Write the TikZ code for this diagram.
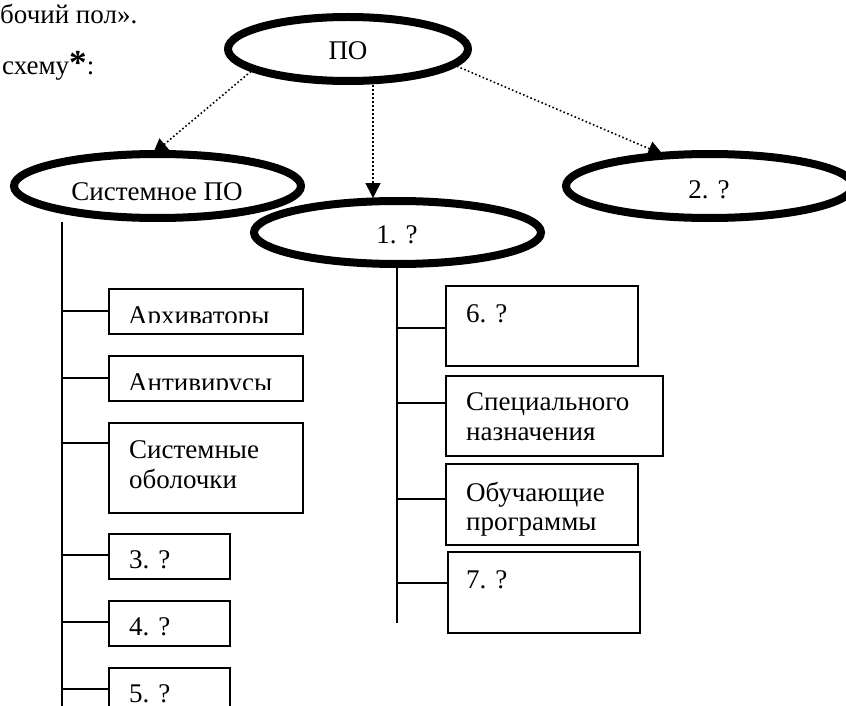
\documentclass[tikz,border=0pt]{standalone}
\usepackage{fontspec}
\setmainfont{Liberation Serif}
\usetikzlibrary{shapes.geometric,arrows.meta,backgrounds,calc}
\begin{document}
\begin{tikzpicture}[x=1pt,y=-1pt,
  oval/.style={ellipse,draw,line width=8pt,fill=white,inner sep=0pt,minimum width=287pt,minimum height=64pt},
  box/.style={rectangle,draw,line width=1.8pt,inner sep=0pt,anchor=north west},
  txt/.style={inner sep=0pt,anchor=base west,font=\fontsize{27}{30}\selectfont},
  ctxt/.style={inner sep=0pt,anchor=base,font=\fontsize{27}{30}\selectfont},
  arr/.style={line width=1.6pt,dash pattern=on 1.6pt off 2.4pt,-{Triangle[length=15pt,width=15pt]}},
  tree/.style={line width=1.8pt}]
\useasboundingbox (0,0) rectangle (846,706);
\clip (0,0) rectangle (846,706);

% top text fragments
\node[txt] (t1) at (0,23.5) {бочий пол».};
\node[txt] (t2) at (2,75) {схему\scalebox{1.3}{\textbf{*}}:};

% ellipses
\node[oval] (sys) at (157.5,186) {};
\node[oval,minimum height=63pt] (one) at (397.5,232.5) {};
\node[oval,minimum width=240pt] (po) at (348,49) {};
\node[oval] (two) at (709.5,186) {};

\node[ctxt] (potext) at (348,60) {ПО};
\node[ctxt] (systext) at (157,200) {Системное ПО};
\node[ctxt] (onetext) at (397,243) {1. ?};
\node[ctxt] (twotext) at (709,198) {2. ?};

% dotted arrows behind the ellipses
\begin{pgfonlayer}{background}
\draw[arr,shorten >=-6pt] (po.193) -- (sys.north);
\draw[arr,shorten >=-1pt] ([xshift=25pt]po.south) -- ([xshift=-24.5pt]one.north);
\draw[arr,shorten >=-6pt] (po.351) -- (two.147);
\end{pgfonlayer}

% left column boxes
\node[box,minimum width=194pt,minimum height=45pt] (arch) at (108,288) {};
\node[box,minimum width=194pt,minimum height=45pt] (anti) at (108,355) {};
\node[box,minimum width=194pt,minimum height=90pt] (shell) at (108,422) {};
\node[box,minimum width=121pt,minimum height=45pt] (b3) at (108,533) {};
\node[box,minimum width=121pt,minimum height=45pt] (b4) at (108,600) {};
\node[box,minimum width=121pt,minimum height=45pt] (b5) at (108,667) {};

\begin{scope}
\clip (108,288) rectangle (302,322.7);
\node[txt] (archtext) at (128,324.5) {Архиваторы};
\end{scope}
\begin{scope}
\clip (108,355) rectangle (302,389);
\node[txt] (antitext) at (128,391.5) {Антивирусы};
\end{scope}
\node[txt] (shelltext) at (129,458) {\begin{tabular}[t]{@{}l@{}}Системные\\оболочки\end{tabular}};
\node[txt] (b3text) at (129,568) {3. ?};
\node[txt] (b4text) at (129,635) {4. ?};
\node[txt] (b5text) at (129,702) {5. ?};

% right column boxes
\node[box,minimum width=192pt,minimum height=80pt] (b6) at (445,285) {};
\node[box,minimum width=217pt,minimum height=80pt] (spec) at (445,375) {};
\node[box,minimum width=192pt,minimum height=81pt] (edu) at (445,463) {};
\node[box,minimum width=192pt,minimum height=81pt] (b7) at (447,551) {};

\node[txt] (b6text) at (466,322.5) {6. ?};
\node[txt] (spectext) at (466,410) {\begin{tabular}[t]{@{}l@{}}Специального\\назначения\end{tabular}};
\node[txt] (edutext) at (466,501) {\begin{tabular}[t]{@{}l@{}}Обучающие\\[-1pt]программы\end{tabular}};
\node[txt] (b7text) at (466,588) {7. ?};

% left trunk and branches
\coordinate (ltop) at (62,222);
\coordinate (lbot) at (62,706);
\draw[tree] (ltop) -- (lbot);
\draw[tree] (ltop |- 0,311) -- (arch.west |- 0,311);
\draw[tree] (ltop |- 0,378) -- (anti.west |- 0,378);
\draw[tree] (ltop |- 0,443) -- (shell.west |- 0,443);
\draw[tree] (ltop |- 0,555) -- (b3.west |- 0,555);
\draw[tree] (ltop |- 0,622) -- (b4.west |- 0,622);
\draw[tree] (ltop |- 0,689) -- (b5.west |- 0,689);

% right trunk and branches
\coordinate (rbot) at (397,623);
\draw[tree] (one.south -| rbot) -- (rbot);
\draw[tree] (rbot |- 0,328) -- (b6.west |- 0,328);
\draw[tree] (rbot |- 0,403) -- (spec.west |- 0,403);
\draw[tree] (rbot |- 0,499) -- (edu.west |- 0,499);
\draw[tree] (rbot |- 0,583) -- (b7.west |- 0,583);
\end{tikzpicture}
\end{document}
